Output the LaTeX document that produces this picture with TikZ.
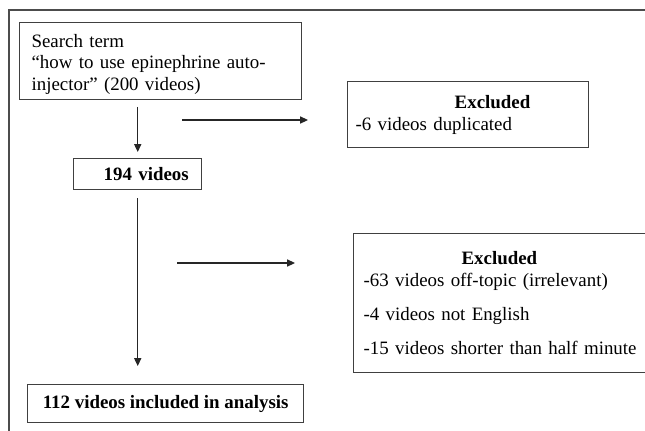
\documentclass[tikz,border=0pt]{standalone}
\usepackage{fontspec}
\setmainfont{Liberation Serif}
\usetikzlibrary{arrows.meta, positioning}

\begin{document}
\begin{tikzpicture}[
        x=0.635pt, y=-0.635pt,
        box/.style={rectangle, draw=black!75, line width=0.8pt, inner ysep=2pt, anchor=north west, font=\fontsize{12}{13.8}\selectfont},
        searchbox/.style={box, align=left, text width=163.8pt, inner xsep=7.6pt, inner ysep=3pt},
        countbox/.style={box, align=right, text width=64.8pt, inner xsep=8.3pt, minimum height=19.7pt, font=\fontsize{12}{13.8}\selectfont\bfseries},
        exclbox/.style={box, align=left},
        finalbox/.style={box, align=center, minimum width=175.3pt, minimum height=24.1pt, font=\fontsize{12}{13.8}\selectfont\bfseries},
        arrow/.style={-{Triangle[length=5pt, width=4.5pt]}, line width=0.8pt, draw=black!85},
        frame/.style={draw=black!70, line width=0.9pt}
    ]

    \useasboundingbox (0,0) rectangle (645,430);

    % Outer frame
    \draw[frame] (9,445) -- (9,10) -- (660,10);

    % Main column
    \node[searchbox] (search) at (19,22) {\rule{0pt}{12.6pt}Search term\\``how to use epinephrine auto-\\injector'' (200 videos)};
    \node[countbox] (videos194) at (73,158) {194 videos};
    \node[finalbox] (included) at (27,384) {112 videos included in analysis};

    % Exclusion boxes
    \node[exclbox, text width=142.9pt, inner xsep=5.1pt, minimum height=41.9pt] (dupl) at (347,81)
        {\hspace*{62.9pt}\textbf{Excluded}\\-6 videos duplicated};
    \node[exclbox, text width=182.2pt, inner xsep=6.35pt, minimum height=88.3pt] (offtopic) at (353,233)
        {\hspace*{62.2pt}\textbf{Excluded}\\-63 videos off-topic (irrelevant)\\[8pt]-4 videos not English\\[8pt]-15 videos shorter than half minute};

    % Side arrows
    \coordinate (duplstart) at (182,120);
    \coordinate (duplend) at (308,120);
    \coordinate (offstart) at (177,263);
    \coordinate (offend) at (295,263);

    % Arrows
    \draw[arrow, shorten <=4.4pt, shorten >=3.8pt] (videos194.north |- search.south) -- (videos194.north);
    \draw[arrow, shorten <=5pt, shorten >=11.4pt] (videos194.south) -- (videos194.south |- included.north);
    \draw[arrow] (duplstart) -- (duplend);
    \draw[arrow] (offstart) -- (offend);

\end{tikzpicture}
\end{document}
